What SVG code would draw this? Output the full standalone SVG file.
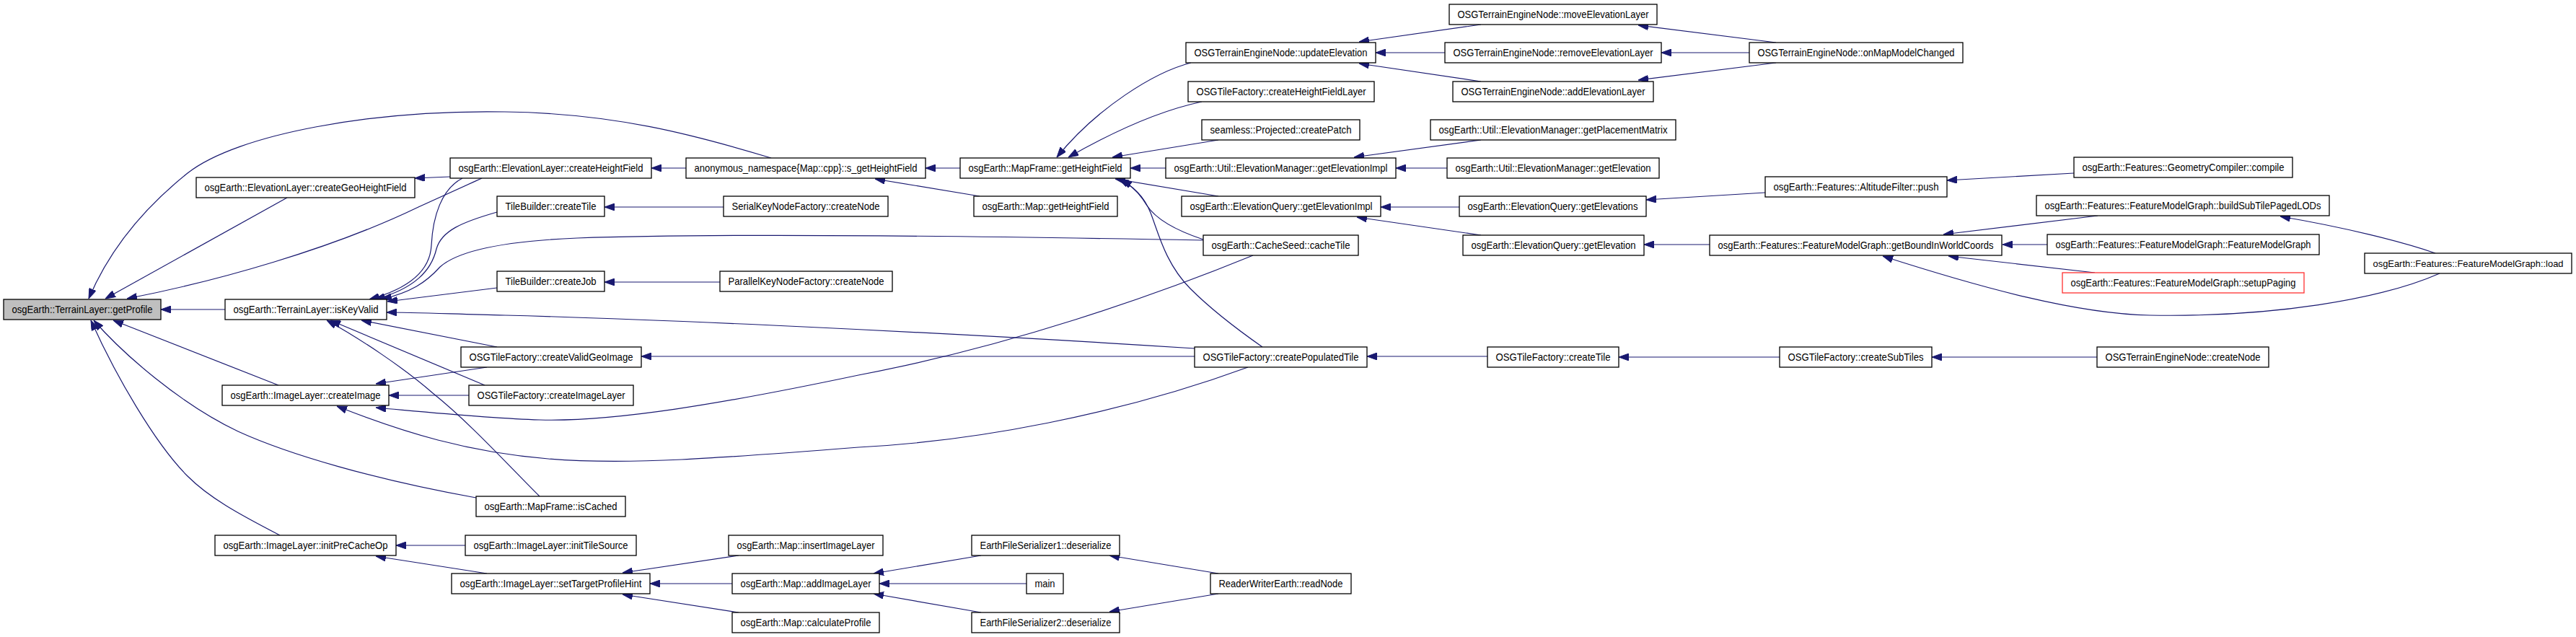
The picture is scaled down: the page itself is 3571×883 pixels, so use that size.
<svg xmlns="http://www.w3.org/2000/svg" width="3571" height="883" viewBox="0 0 3571 883">
<style>
.n rect{fill:#fff;stroke:#000;stroke-width:1.3}
.root rect{fill:#bfbfbf}
.trunc rect{stroke:#ff3030}
text{font-family:"Liberation Sans",Arial,Helvetica,sans-serif;font-size:15px;text-anchor:middle;fill:#000}
.e path{fill:none;stroke:#191970;stroke-width:1.2;marker-end:url(#a)}
</style>
<defs>
<marker id="a" markerUnits="userSpaceOnUse" viewBox="0 0 14 10" refX="14" refY="5" markerWidth="14" markerHeight="10" orient="auto">
<path d="M0,0 L14,5 L0,10 z" fill="#191970" stroke="#191970"/>
</marker>
</defs>
<rect width="3571" height="883" fill="#fff"/>
<g id="edges" class="e">
<path d="M312,429 L223,429"/>
<path d="M398,274 L146,414"/>
<path d="M1069,219 C960,186 850,157 700,155 C520,152 330,185 260,240 C195,292 150,350 123,414"/>
<path d="M668,247 C635,262 600,278 580,287 C460,345 300,390 176,414"/>
<path d="M641,247 C612,262 600,300 598,340 C596,380 560,402 512,415"/>
<path d="M689,294 C640,308 612,320 605,345 C598,375 575,400 520,415"/>
<path d="M1668,333 C1400,328 1000,323 800,330 C680,335 630,352 610,370 C590,392 570,405 529,415"/>
<path d="M689,399 L537,418"/>
<path d="M1656,483 C1300,460 900,442 700,437 C620,435 570,433 536,433"/>
<path d="M689,481 L501,444"/>
<path d="M672,534 L458,444"/>
<path d="M748,688 C700,640 650,585 600,545 C560,510 500,470 453,444"/>
<path d="M675,509 L521,532"/>
<path d="M650,548 L539,548"/>
<path d="M1737,354 C1600,410 1400,480 1190,520 C1000,560 850,585 748,582 C680,580 600,572 521,565"/>
<path d="M1730,509 C1550,575 1350,612 1190,620 C1000,635 870,645 760,636 C650,627 560,600 467,563"/>
<path d="M660,690 C520,665 400,630 330,598 C250,560 170,490 130,444"/>
<path d="M386,534 L157,444"/>
<path d="M388,742 C330,712 290,690 260,660 C215,615 160,520 126,444"/>
<path d="M645,756 L549,756"/>
<path d="M675,795 L521,771"/>
<path d="M1024,770 L863,794"/>
<path d="M1015,809 L901,809"/>
<path d="M1024,849 L863,824"/>
<path d="M1360,770 L1211,795"/>
<path d="M1423,809 L1219,809"/>
<path d="M1360,849 L1211,823"/>
<path d="M1689,795 L1538,770"/>
<path d="M1689,823 L1538,848"/>
<path d="M951,233 L903,233"/>
<path d="M1003,287 L838,287"/>
<path d="M998,391 L838,391"/>
<path d="M624,245 L575,247"/>
<path d="M1358,272 L1213,248"/>
<path d="M1331,233 L1283,233"/>
<path d="M1651,87 C1600,100 1520,150 1465,218"/>
<path d="M1666,141 C1600,155 1530,190 1481,218"/>
<path d="M1689,194 L1542,218"/>
<path d="M1616,233 L1567,233"/>
<path d="M1689,272 L1546,248"/>
<path d="M1668,332 C1620,316 1600,300 1590,285 C1580,268 1570,258 1555,249"/>
<path d="M1750,481 C1720,460 1680,430 1650,400 C1615,365 1605,320 1595,295 C1585,270 1570,258 1551,248"/>
<path d="M2053,34 L1884,58"/>
<path d="M2003,73 L1907,73"/>
<path d="M2053,113 L1884,88"/>
<path d="M2462,59 L2271,35"/>
<path d="M2425,73 L2303,73"/>
<path d="M2462,87 L2271,111"/>
<path d="M2053,194 L1877,218"/>
<path d="M2006,233 L1935,233"/>
<path d="M2023,287 L1914,287"/>
<path d="M2053,326 L1881,301"/>
<path d="M2447,267 L2282,277"/>
<path d="M2370,339 L2279,339"/>
<path d="M2875,240 L2699,250"/>
<path d="M2908,299 L2694,325"/>
<path d="M2838,339 L2776,339"/>
<path d="M2904,378 L2701,355"/>
<path d="M3382,379 C3300,415 3150,440 2980,437 C2880,435 2750,400 2610,355"/>
<path d="M3376,351 C3330,335 3250,315 3161,300"/>
<path d="M2062,494 L1895,494"/>
<path d="M2467,495 L2244,495"/>
<path d="M2907,495 L2678,495"/>
<path d="M1656,494 L889,494"/>
</g>
<g id="n1" class="n root"><rect x="5" y="415" width="218" height="28"/><text x="114" y="434" textLength="195" lengthAdjust="spacingAndGlyphs">osgEarth::TerrainLayer::getProfile</text></g>
<g id="n2" class="n"><rect x="272" y="246" width="303" height="28"/><text x="423.5" y="265" textLength="280" lengthAdjust="spacingAndGlyphs">osgEarth::ElevationLayer::createGeoHeightField</text></g>
<g id="n3" class="n"><rect x="312" y="415" width="224" height="28"/><text x="424" y="434" textLength="201" lengthAdjust="spacingAndGlyphs">osgEarth::TerrainLayer::isKeyValid</text></g>
<g id="n4" class="n"><rect x="308" y="534" width="231" height="28"/><text x="423.5" y="553" textLength="208" lengthAdjust="spacingAndGlyphs">osgEarth::ImageLayer::createImage</text></g>
<g id="n5" class="n"><rect x="298" y="742" width="251" height="28"/><text x="423.5" y="761" textLength="228" lengthAdjust="spacingAndGlyphs">osgEarth::ImageLayer::initPreCacheOp</text></g>
<g id="n6" class="n"><rect x="624" y="219" width="279" height="28"/><text x="763.5" y="238" textLength="256" lengthAdjust="spacingAndGlyphs">osgEarth::ElevationLayer::createHeightField</text></g>
<g id="n7" class="n"><rect x="951" y="219" width="332" height="28"/><text x="1117" y="238" textLength="309" lengthAdjust="spacingAndGlyphs">anonymous_namespace{Map::cpp}::s_getHeightField</text></g>
<g id="n8" class="n"><rect x="689" y="272" width="149" height="28"/><text x="763.5" y="291" textLength="126" lengthAdjust="spacingAndGlyphs">TileBuilder::createTile</text></g>
<g id="n9" class="n"><rect x="1003" y="272" width="228" height="28"/><text x="1117" y="291" textLength="205" lengthAdjust="spacingAndGlyphs">SerialKeyNodeFactory::createNode</text></g>
<g id="n10" class="n"><rect x="689" y="376" width="149" height="28"/><text x="763.5" y="395" textLength="126" lengthAdjust="spacingAndGlyphs">TileBuilder::createJob</text></g>
<g id="n11" class="n"><rect x="998" y="376" width="239" height="28"/><text x="1117.5" y="395" textLength="216" lengthAdjust="spacingAndGlyphs">ParallelKeyNodeFactory::createNode</text></g>
<g id="n12" class="n"><rect x="639" y="481" width="250" height="28"/><text x="764" y="500" textLength="227" lengthAdjust="spacingAndGlyphs">OSGTileFactory::createValidGeoImage</text></g>
<g id="n13" class="n"><rect x="650" y="534" width="228" height="28"/><text x="764" y="553" textLength="205" lengthAdjust="spacingAndGlyphs">OSGTileFactory::createImageLayer</text></g>
<g id="n14" class="n"><rect x="660" y="688" width="207" height="28"/><text x="763.5" y="707" textLength="184" lengthAdjust="spacingAndGlyphs">osgEarth::MapFrame::isCached</text></g>
<g id="n15" class="n"><rect x="645" y="742" width="237" height="28"/><text x="763.5" y="761" textLength="214" lengthAdjust="spacingAndGlyphs">osgEarth::ImageLayer::initTileSource</text></g>
<g id="n16" class="n"><rect x="626" y="795" width="275" height="28"/><text x="763.5" y="814" textLength="252" lengthAdjust="spacingAndGlyphs">osgEarth::ImageLayer::setTargetProfileHint</text></g>
<g id="n17" class="n"><rect x="1010" y="742" width="214" height="28"/><text x="1117" y="761" textLength="191" lengthAdjust="spacingAndGlyphs">osgEarth::Map::insertImageLayer</text></g>
<g id="n18" class="n"><rect x="1015" y="795" width="204" height="28"/><text x="1117" y="814" textLength="181" lengthAdjust="spacingAndGlyphs">osgEarth::Map::addImageLayer</text></g>
<g id="n19" class="n"><rect x="1015" y="849" width="204" height="28"/><text x="1117" y="868" textLength="181" lengthAdjust="spacingAndGlyphs">osgEarth::Map::calculateProfile</text></g>
<g id="n20" class="n"><rect x="1331" y="219" width="236" height="28"/><text x="1449" y="238" textLength="213" lengthAdjust="spacingAndGlyphs">osgEarth::MapFrame::getHeightField</text></g>
<g id="n21" class="n"><rect x="1350" y="272" width="199" height="28"/><text x="1449.5" y="291" textLength="176" lengthAdjust="spacingAndGlyphs">osgEarth::Map::getHeightField</text></g>
<g id="n22" class="n"><rect x="1644" y="59" width="263" height="28"/><text x="1775.5" y="78" textLength="240" lengthAdjust="spacingAndGlyphs">OSGTerrainEngineNode::updateElevation</text></g>
<g id="n23" class="n"><rect x="1647" y="113" width="258" height="28"/><text x="1776" y="132" textLength="235" lengthAdjust="spacingAndGlyphs">OSGTileFactory::createHeightFieldLayer</text></g>
<g id="n24" class="n"><rect x="1666" y="166" width="219" height="28"/><text x="1775.5" y="185" textLength="196" lengthAdjust="spacingAndGlyphs">seamless::Projected::createPatch</text></g>
<g id="n25" class="n"><rect x="1616" y="219" width="319" height="28"/><text x="1775.5" y="238" textLength="296" lengthAdjust="spacingAndGlyphs">osgEarth::Util::ElevationManager::getElevationImpl</text></g>
<g id="n26" class="n"><rect x="1638" y="272" width="276" height="28"/><text x="1776" y="291" textLength="253" lengthAdjust="spacingAndGlyphs">osgEarth::ElevationQuery::getElevationImpl</text></g>
<g id="n27" class="n"><rect x="1668" y="326" width="215" height="28"/><text x="1775.5" y="345" textLength="192" lengthAdjust="spacingAndGlyphs">osgEarth::CacheSeed::cacheTile</text></g>
<g id="n28" class="n"><rect x="1656" y="481" width="239" height="28"/><text x="1775.5" y="500" textLength="216" lengthAdjust="spacingAndGlyphs">OSGTileFactory::createPopulatedTile</text></g>
<g id="n29" class="n"><rect x="1347" y="742" width="205" height="28"/><text x="1449.5" y="761" textLength="182" lengthAdjust="spacingAndGlyphs">EarthFileSerializer1::deserialize</text></g>
<g id="n30" class="n"><rect x="1423" y="795" width="51" height="28"/><text x="1448.5" y="814" textLength="28" lengthAdjust="spacingAndGlyphs">main</text></g>
<g id="n31" class="n"><rect x="1347" y="849" width="205" height="28"/><text x="1449.5" y="868" textLength="182" lengthAdjust="spacingAndGlyphs">EarthFileSerializer2::deserialize</text></g>
<g id="n32" class="n"><rect x="1678" y="795" width="195" height="28"/><text x="1775.5" y="814" textLength="172" lengthAdjust="spacingAndGlyphs">ReaderWriterEarth::readNode</text></g>
<g id="n33" class="n"><rect x="2009" y="6" width="288" height="28"/><text x="2153" y="25" textLength="265" lengthAdjust="spacingAndGlyphs">OSGTerrainEngineNode::moveElevationLayer</text></g>
<g id="n34" class="n"><rect x="2003" y="59" width="300" height="28"/><text x="2153" y="78" textLength="277" lengthAdjust="spacingAndGlyphs">OSGTerrainEngineNode::removeElevationLayer</text></g>
<g id="n35" class="n"><rect x="2014" y="113" width="278" height="28"/><text x="2153" y="132" textLength="255" lengthAdjust="spacingAndGlyphs">OSGTerrainEngineNode::addElevationLayer</text></g>
<g id="n36" class="n"><rect x="1983" y="166" width="340" height="28"/><text x="2153" y="185" textLength="317" lengthAdjust="spacingAndGlyphs">osgEarth::Util::ElevationManager::getPlacementMatrix</text></g>
<g id="n37" class="n"><rect x="2006" y="219" width="294" height="28"/><text x="2153" y="238" textLength="271" lengthAdjust="spacingAndGlyphs">osgEarth::Util::ElevationManager::getElevation</text></g>
<g id="n38" class="n"><rect x="2023" y="272" width="259" height="28"/><text x="2152.5" y="291" textLength="236" lengthAdjust="spacingAndGlyphs">osgEarth::ElevationQuery::getElevations</text></g>
<g id="n39" class="n"><rect x="2028" y="326" width="251" height="28"/><text x="2153.5" y="345" textLength="228" lengthAdjust="spacingAndGlyphs">osgEarth::ElevationQuery::getElevation</text></g>
<g id="n40" class="n"><rect x="2370" y="326" width="405" height="28"/><text x="2572.5" y="345" textLength="382" lengthAdjust="spacingAndGlyphs">osgEarth::Features::FeatureModelGraph::getBoundInWorldCoords</text></g>
<g id="n41" class="n"><rect x="2062" y="481" width="182" height="28"/><text x="2153" y="500" textLength="159" lengthAdjust="spacingAndGlyphs">OSGTileFactory::createTile</text></g>
<g id="n42" class="n"><rect x="2425" y="59" width="296" height="28"/><text x="2573" y="78" textLength="273" lengthAdjust="spacingAndGlyphs">OSGTerrainEngineNode::onMapModelChanged</text></g>
<g id="n43" class="n"><rect x="2447" y="245" width="252" height="28"/><text x="2573" y="264" textLength="229" lengthAdjust="spacingAndGlyphs">osgEarth::Features::AltitudeFilter::push</text></g>
<g id="n44" class="n"><rect x="2875" y="218" width="303" height="28"/><text x="3026.5" y="237" textLength="280" lengthAdjust="spacingAndGlyphs">osgEarth::Features::GeometryCompiler::compile</text></g>
<g id="n45" class="n"><rect x="2823" y="271" width="406" height="28"/><text x="3026" y="290" textLength="383" lengthAdjust="spacingAndGlyphs">osgEarth::Features::FeatureModelGraph::buildSubTilePagedLODs</text></g>
<g id="n46" class="n"><rect x="2838" y="325" width="377" height="28"/><text x="3026.5" y="344" textLength="354" lengthAdjust="spacingAndGlyphs">osgEarth::Features::FeatureModelGraph::FeatureModelGraph</text></g>
<g id="n47" class="n trunc"><rect x="2859" y="378" width="335" height="28"/><text x="3026.5" y="397" textLength="312" lengthAdjust="spacingAndGlyphs">osgEarth::Features::FeatureModelGraph::setupPaging</text></g>
<g id="n48" class="n"><rect x="3278" y="351" width="287" height="28"/><text x="3421.5" y="370" style="font-size:13.5px" textLength="264" lengthAdjust="spacingAndGlyphs">osgEarth::Features::FeatureModelGraph::load</text></g>
<g id="n49" class="n"><rect x="2467" y="481" width="211" height="28"/><text x="2572.5" y="500" textLength="188" lengthAdjust="spacingAndGlyphs">OSGTileFactory::createSubTiles</text></g>
<g id="n50" class="n"><rect x="2907" y="481" width="238" height="28"/><text x="3026" y="500" textLength="215" lengthAdjust="spacingAndGlyphs">OSGTerrainEngineNode::createNode</text></g>
</svg>
